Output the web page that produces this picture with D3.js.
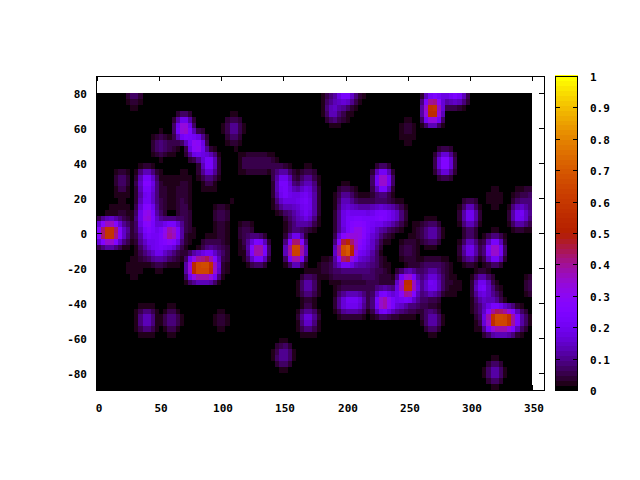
<!DOCTYPE html>
<html><head><meta charset="utf-8"><style>html,body{margin:0;background:#fff}svg{display:block}text{font-family:"DejaVu Sans Mono","Liberation Mono",monospace;font-weight:bold;font-size:11px;fill:#000}</style></head><body><div id="c"></div>
<script src="https://cdn.jsdelivr.net/npm/d3@7"></script>
<script>
const xStep = 10;
const yValues = [80,70,60,50,40,30,20,10,0,-10,-20,-30,-40,-50,-60,-70,-80,-90];
const xTicks = [0,50,100,150,200,250,300,350];
const yTicks = [80,60,40,20,0,-20,-40,-60,-80];
const cbTicks = [0,0.1,0.2,0.3,0.4,0.5,0.6,0.7,0.8,0.9,1];
// sparse reads: column index -> value, one table per latitude row from the top
const row00 = {3:.1,19:.08,20:.3,21:.06,27:.14,28:.2,29:.3,30:.02};
const row01 = {3:.01,19:.18,20:.04,27:.8,28:.02};
const row02 = {7:.48,11:.14,25:.05,27:.02};
const row03 = {5:.11,6:.05,8:.42,11:.02,25:.02};
const row04 = {9:.32,12:.07,13:.07,14:.06,28:.38};
const row05 = {2:.1,4:.32,5:.04,6:.02,7:.04,9:.07,15:.28,16:.02,17:.14,23:.5};
const row06 = {2:.02,4:.22,5:.05,6:.02,7:.05,11:.02,15:.22,16:.2,17:.24,20:.14,21:.03,22:.02,23:.03,30:.02,32:.04,34:.05,35:.09};
const row07 = {1:.03,2:.04,3:.02,4:.4,5:.08,7:.07,10:.08,15:.02,16:.12,17:.22,20:.22,21:.22,22:.22,23:.3,24:.2,25:.02,30:.28,34:.27,35:.07};
const row08 = {0:.24,1:.8,2:.2,3:.02,4:.25,5:.2,6:.5,7:.06,8:.01,10:.03,12:.08,16:.1,17:.01,20:.2,21:.36,22:.2,23:.07,24:.01,26:.05,27:.16,30:.04,32:.03};
const row09 = {4:.12,5:.24,6:.12,7:.02,9:.12,10:.08,12:.04,13:.55,16:.92,20:.92,21:.26,22:.16,25:.08,30:.26,32:.5,31:.02};
const row10 = {3:.04,5:.03,7:.01,8:.78,9:.78,10:.05,18:.03,19:.08,20:.1,21:.09,22:.09,23:.04,25:.02,26:.05,27:.1,28:.05};
const row11 = {17:.16,19:.01,20:.02,21:.02,22:.05,23:.04,24:.05,25:.78,26:.08,27:.26,28:.04,29:.03,31:.28,32:.03,35:.08};
const row12 = {17:.03,20:.24,21:.24,22:.02,23:.5,24:.22,25:.12,26:.07,27:.02,31:.12,32:.14};
const row13 = {4:.2,6:.12,10:.05,17:.22,27:.16,31:.07,32:.78,33:.78,34:.16};
const row14 = {};
const row15 = {15:.15};
const row16 = {32:.17};
const row17 = {};
const rows = [row00,row01,row02,row03,row04,row05,row06,row07,row08,row09,row10,row11,row12,row13,row14,row15,row16,row17];
const nCols = 36, sub = 3, levels = 64;

const W=640,H=480;
const x=d3.scaleLinear().domain([0,360]).range([97,544.5]);
const y=d3.scaleLinear().domain([-90,90]).range([390,76]);
const cb=d3.scaleLinear().domain([0,1]).range([390,76]);
const svg=d3.select("#c").append("svg").attr("width",W).attr("height",H).attr("shape-rendering","crispEdges");
const clamp=v=>Math.max(0,Math.min(1,v));
function pal(v){
  const q=Math.min(levels-1,Math.floor(clamp(v)*levels))/(levels-1);
  const r=Math.sqrt(q),g=q*q*q,b=Math.max(0,Math.sin(2*Math.PI*q));
  return d3.rgb(Math.round(r*255),Math.round(g*255),Math.round(b*255)).formatHex();
}
const val=(k,i)=>rows[k][i]||0;
const hm=svg.append("g");
const cells=[];
for(let k=0;k<rows.length-1;k++)for(let i=0;i<nCols-1;i++)for(let a=0;a<sub;a++)for(let b=0;b<sub;b++){
  const f=(s,t)=>{const u=s/sub,w=t/sub;return (val(k,i)*(1-u)+val(k,i+1)*u)*(1-w)+(val(k+1,i)*(1-u)+val(k+1,i+1)*u)*w;};
  const m=(f(a,b)+f(a+1,b)+f(a,b+1)+f(a+1,b+1))/4;
  cells.push({x0:(i+a/sub)*xStep,x1:(i+(a+1)/sub)*xStep,y0:yValues[k]-b/sub*10,y1:yValues[k]-(b+1)/sub*10,v:m});
}
hm.selectAll("rect").data(cells).join("rect")
  .attr("x",d=>Math.round(x(d.x0))).attr("width",d=>Math.round(x(d.x1))-Math.round(x(d.x0)))
  .attr("y",d=>Math.round(y(d.y0))).attr("height",d=>Math.round(y(d.y1))-Math.round(y(d.y0)))
  .attr("fill",d=>pal(d.v));
// frame + ticks
const fr=svg.append("g").attr("stroke","#000").attr("fill","none");
fr.append("rect").attr("x",96.5).attr("y",76.5).attr("width",448).attr("height",313.5);
xTicks.forEach(t=>{const p=Math.round(x(t))+.5;
  fr.append("line").attr("x1",p).attr("x2",p).attr("y1",76).attr("y2",81);
  fr.append("line").attr("x1",p).attr("x2",p).attr("y1",390).attr("y2",385);
  svg.append("text").attr("x",p+1.5).attr("y",412).attr("text-anchor","middle").text(t);});
yTicks.forEach(t=>{const p=Math.round(y(t))+.5;
  fr.append("line").attr("x1",97).attr("x2",102).attr("y1",p).attr("y2",p);
  fr.append("line").attr("x1",539).attr("x2",544).attr("y1",p).attr("y2",p);
  svg.append("text").attr("x",87).attr("y",p+4.5).attr("text-anchor","end").text(t);});
// colorbar
const cg=svg.append("g");
d3.range(0,314).forEach(j=>{const v=j/313;
  cg.append("rect").attr("x",555).attr("width",23).attr("y",Math.round(cb(v))-1).attr("height",2).attr("fill",pal(v));});
const cf=svg.append("g").attr("stroke","#000").attr("fill","none");
cf.append("rect").attr("x",555.5).attr("y",76.5).attr("width",22).attr("height",313.5);
cbTicks.forEach(t=>{const p=Math.round(cb(t))+.5;
  cf.append("line").attr("x1",555).attr("x2",560).attr("y1",p).attr("y2",p);
  cf.append("line").attr("x1",573).attr("x2",578).attr("y1",p).attr("y2",p);
  svg.append("text").attr("x",590).attr("y",p+4.5).text(t);});
</script></body></html>
